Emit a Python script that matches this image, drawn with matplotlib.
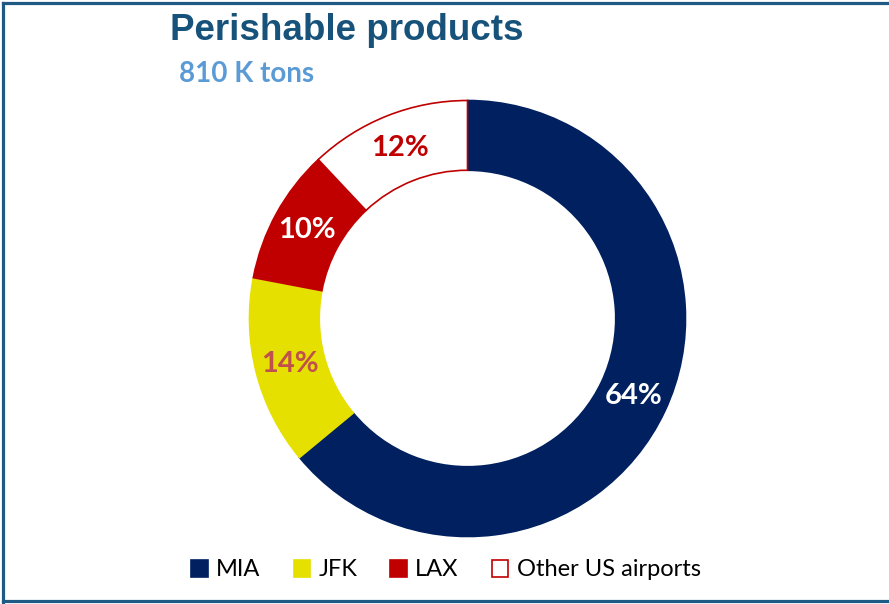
import matplotlib
matplotlib.use("Agg")
import matplotlib.pyplot as plt
from matplotlib.lines import Line2D
from matplotlib.patches import Patch
import numpy as np

# data
airports = ["MIA", "JFK", "LAX", "Other US airports"]
shares = [64, 14, 10, 12]
colors = ["#002060", "#e5e000", "#c00000", "#ffffff"]
edge_colors = ["#002060", "#e5e000", "#c00000", "#c00000"]
label_colors = ["#ffffff", "#c0504d", "#ffffff", "#c00000"]

fig = plt.figure(figsize=(8.89, 6.04), dpi=100)

# donut centred at (467, 318) px, outer radius 218 px
cx, cy, r = 467.5, 318.5, 218
ax = fig.add_axes([(cx - r) / 889, (604 - cy - r) / 604, 2 * r / 889, 2 * r / 604])
wedges, _ = ax.pie(shares, colors=colors, startangle=90, counterclock=False,
                   radius=1, wedgeprops=dict(width=0.32, linewidth=1.2))
for w, ec in zip(wedges, edge_colors):
    w.set_edgecolor(ec)

for w, s, lc in zip(wedges, shares, label_colors):
    ang = np.deg2rad((w.theta1 + w.theta2) / 2)
    ax.text(0.84 * np.cos(ang), 0.84 * np.sin(ang), f"{s}%", ha="center", va="center",
            fontsize=21, fontweight="bold", color=lc, family="Lato")
ax.set_xlim(-1, 1)
ax.set_ylim(-1, 1)
ax.set_aspect("equal")
ax.axis("off")

fig.text(170 / 889, 1 - 30 / 604, "Perishable products", fontsize=26.5, fontweight="bold",
         color="#17527b", family="Liberation Sans", va="center", ha="left")
fig.text(179 / 889, 1 - 74 / 604, "810 K tons", fontsize=20, fontweight="bold",
         color="#5b9bd5", family="Lato", va="center", ha="left")

handles = [Patch(facecolor=c, edgecolor=e, linewidth=1.2) for c, e in zip(colors, edge_colors)]
fig.legend(handles, airports, loc="center", bbox_to_anchor=(446 / 889, 1 - 570 / 604),
           ncol=4, frameon=False, prop={"family": "Lato", "size": 17},
           handlelength=0.7, handleheight=0.7, handletextpad=0.35, columnspacing=1.4)

# frame lines: left, top, bottom
bc = "#1f5a85"
fig.add_artist(Line2D([3 / 889, 3 / 889], [2 / 604, 1 - 3 / 604], color=bc, lw=2.3))
fig.add_artist(Line2D([3 / 889, 1], [1 - 3 / 604, 1 - 3 / 604], color=bc, lw=2.3))
fig.add_artist(Line2D([3 / 889, 1], [3 / 604, 3 / 604], color=bc, lw=2.3))

fig.savefig("out.png", dpi=100)
